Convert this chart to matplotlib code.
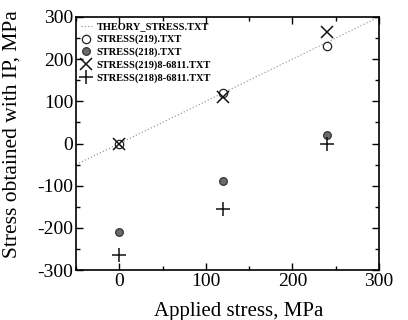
import numpy as np
import matplotlib.pyplot as plt
from matplotlib.ticker import MultipleLocator

plt.rcParams['font.family'] = ['Liberation Serif', 'DejaVu Serif']
plt.rcParams['axes.unicode_minus'] = False

# applied stress levels (MPa)
applied = [0, 120, 240]
theory_x = [-50, 300]
theory_y = [-50, 300]

# stress measured with IP (MPa)
s219 = [0, 120, 230]
s218 = [-210, -90, 20]
s219_6811 = [0, 110, 265]
s218_6811 = [-265, -155, 0]

fig = plt.figure(figsize=(4.08, 3.2), dpi=100)
ax = fig.add_axes([0.186, 0.156, 0.743, 0.791])

ax.plot(theory_x, theory_y, ls=(0, (1, 2)), color='#888888', lw=0.8,
        label='THEORY_STRESS.TXT')
ax.plot(applied, s219, 'o', mfc='white', mec='#222222', ms=6, mew=0.9,
        label='STRESS(219).TXT')
ax.plot(applied, s218, 'o', mfc='#6a6a6a', mec='#333333', ms=5.5, mew=0.9,
        label='STRESS(218).TXT')
ax.plot(applied, s219_6811, 'x', color='#111111', ms=8.5, mew=1.1,
        label='STRESS(219)8-6811.TXT')
ax.plot(applied, s218_6811, '+', color='#111111', ms=9.5, mew=1.1,
        label='STRESS(218)8-6811.TXT')

ax.set_xlim(-50, 300)
ax.set_ylim(-300, 300)
ax.xaxis.set_major_locator(MultipleLocator(100))
ax.xaxis.set_minor_locator(MultipleLocator(50))
ax.yaxis.set_major_locator(MultipleLocator(100))
ax.yaxis.set_minor_locator(MultipleLocator(50))
ax.tick_params(which='both', direction='in', top=True, right=True,
               labelsize=14, width=1, pad=2)
ax.tick_params(which='major', length=5)
ax.tick_params(which='minor', length=3)
for sp in ax.spines.values():
    sp.set_linewidth(1.2)

ax.set_xlabel('Applied stress, MPa', fontsize=15)
ax.set_ylabel('Stress obtained with IP, MPa', fontsize=15.5)
ax.xaxis.set_label_coords(0.538, -0.126)
ax.yaxis.set_label_coords(-0.178, 0.537)

ax.legend(loc='upper left', prop={'size': 7.5, 'weight': 'bold'},
          frameon=False, handlelength=1.0, handletextpad=0.5,
          labelspacing=0.32, borderaxespad=0.3, borderpad=0.2)

fig.savefig('out.png', dpi=100)
